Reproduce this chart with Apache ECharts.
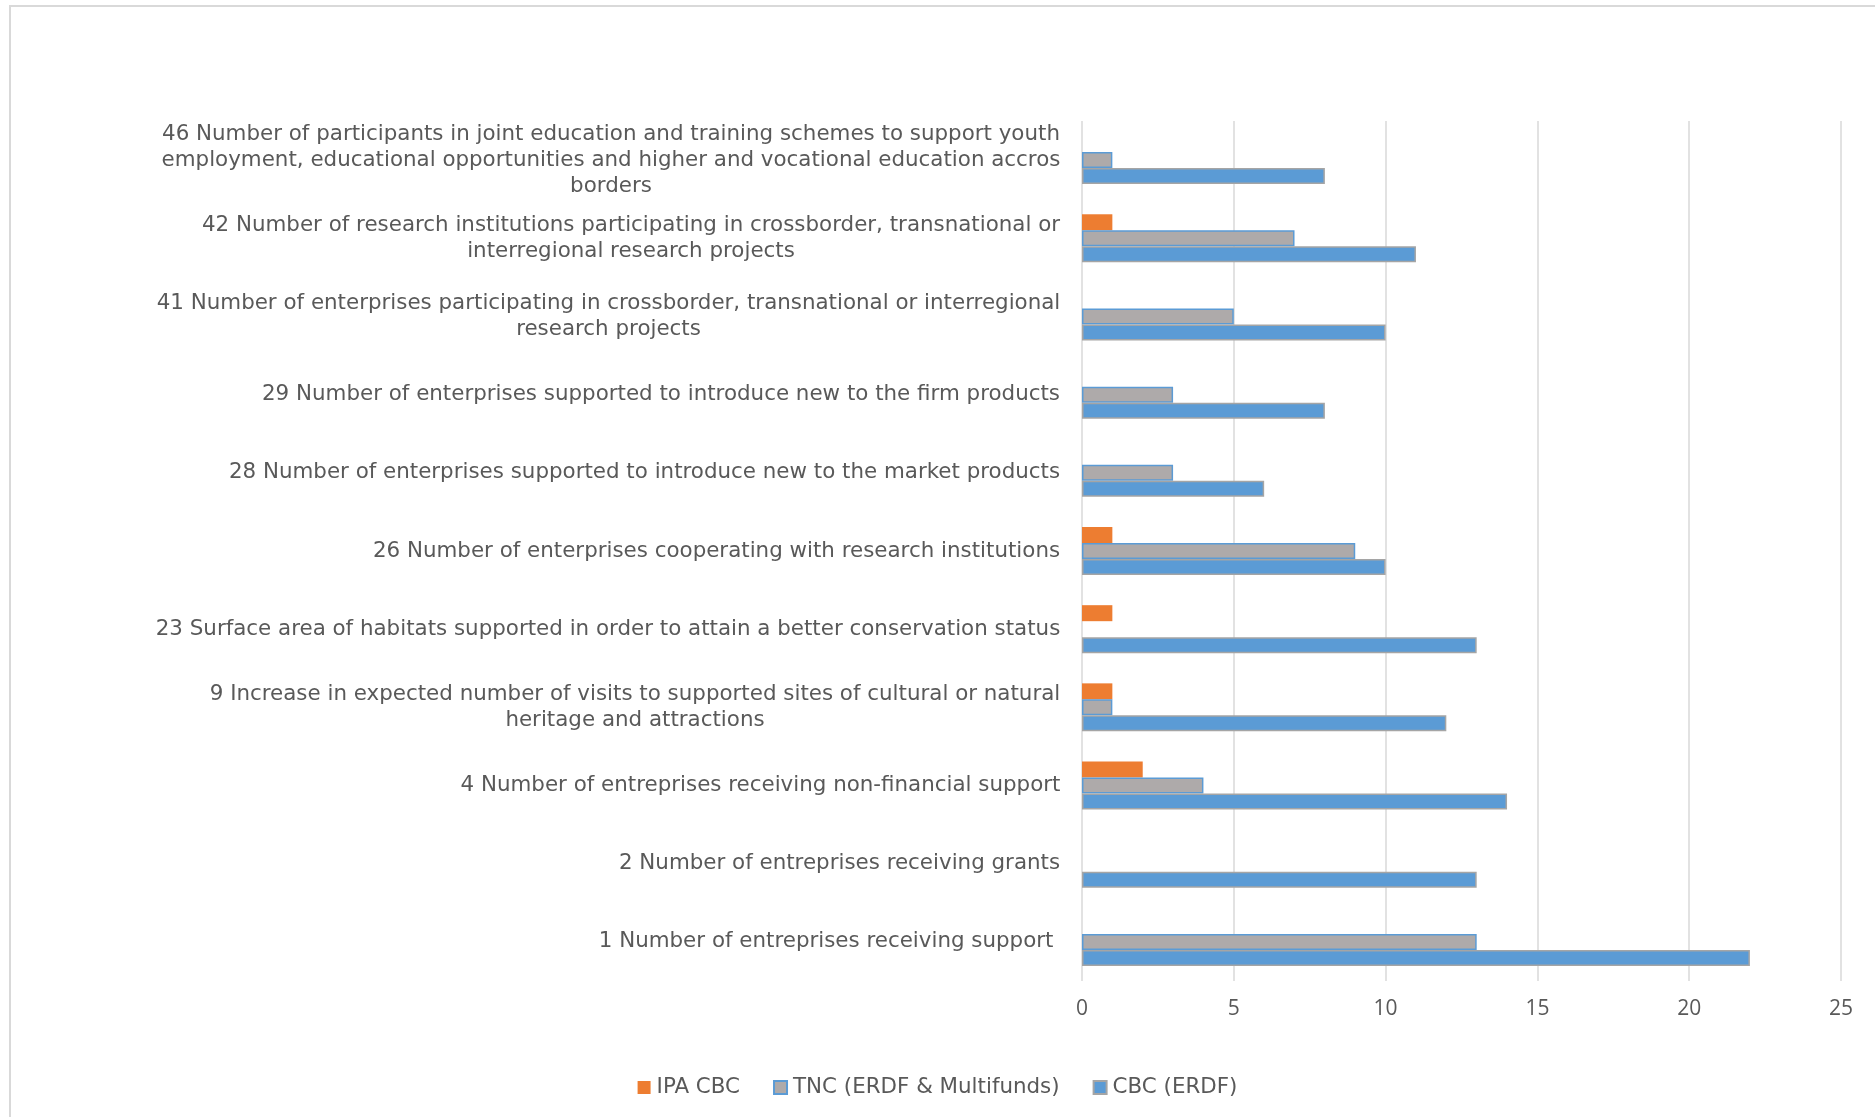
<!DOCTYPE html>
<html>
<head>
<meta charset="utf-8">
<script src="https://cdn.jsdelivr.net/npm/echarts@6/dist/echarts.min.js"></script>
<style>
  html, body { margin: 0; padding: 0; background: #fff; }
  #chart { width: 1875px; height: 1117px; }
</style>
</head>
<body>
<div id="chart"></div>
<script>
// categories, bottom to top (as the y axis draws them)
const categories = [
  '1 Number of entreprises receiving support ',
  '2 Number of entreprises receiving grants',
  '4 Number of entreprises receiving non-financial support',
  '9 Increase in expected number of visits to supported sites of cultural or natural\nheritage and attractions',
  '23 Surface area of habitats supported in order to attain a better conservation status',
  '26 Number of enterprises cooperating with research institutions',
  '28 Number of enterprises supported to introduce new to the market products',
  '29 Number of enterprises supported to introduce new to the firm products',
  '41 Number of enterprises participating in crossborder, transnational or interregional\nresearch projects',
  '42 Number of research institutions participating in crossborder, transnational or\ninterregional research projects',
  '46 Number of participants in joint education and training schemes to support youth\nemployment, educational opportunities and higher and vocational education accros\nborders'
];
const ipaCbc = [0, 0, 2, 1, 1, 1, 0, 0, 0, 1, 0];
const tnc    = [13, 0, 4, 1, 0, 9, 3, 3, 5, 7, 1];
const cbc    = [22, 13, 14, 12, 13, 10, 6, 8, 10, 11, 8];
const xTicks = [0, 5, 10, 15, 20, 25];

const labelFont = '"DejaVu Sans", sans-serif';
const labelSize = 21.4;

// measure every label so multi-line ones can be centred inside their own box
const ctx = document.createElement('canvas').getContext('2d');
ctx.font = labelSize + 'px ' + labelFont;
const rich = {};
categories.forEach((c, i) => {
  const w = Math.max(...c.split('\n').map(l => ctx.measureText(l).width));
  rich['c' + i] = {
    width: Math.ceil(w) + 1,
    align: 'center',
    fontFamily: labelFont,
    fontSize: labelSize,
    lineHeight: 26,
    color: '#595959'
  };
});

// zero bars should not leave a border sliver
const noZeroBorder = arr => arr.map(v => v === 0 ? { value: 0, itemStyle: { borderWidth: 0 } } : v);

let myChart = echarts.init(document.getElementById('chart'));

let option = {
  animation: false,
  backgroundColor: '#fff',
  graphic: [{
    type: 'rect',
    shape: { x: 10, y: 6, width: 1900, height: 1200 },
    style: { fill: 'none', stroke: '#d9d9d9', lineWidth: 2 },
    silent: true
  }],
  legend: {
    data: ['IPA CBC', 'TNC (ERDF & Multifunds)', 'CBC (ERDF)'],
    bottom: 14,
    left: 'center',
    icon: 'rect',
    itemWidth: 13,
    itemHeight: 13,
    itemGap: 33,
    textStyle: { fontFamily: labelFont, fontSize: labelSize, color: '#595959', padding: [0, 0, 0, 1] }
  },
  grid: {
    left: 1082,
    right: 34,
    top: 121,
    bottom: 136,
    outerBoundsMode: 'none'
  },
  xAxis: {
    type: 'value',
    min: xTicks[0],
    max: xTicks[xTicks.length - 1],
    interval: 5,
    axisLine: { show: false },
    axisTick: { show: false },
    axisLabel: {
      margin: 18,
      fontFamily: '"Open Sans", sans-serif',
      fontSize: 21,
      color: '#595959'
    },
    splitLine: { lineStyle: { color: '#d9d9d9', width: 1.5 } }
  },
  yAxis: {
    type: 'category',
    data: categories,
    axisLine: { show: false },
    axisTick: { show: false },
    axisLabel: {
      margin: 21,
      interval: 0,
      formatter: (value, idx) => value.split('\n').map(l => '{c' + idx + '|' + l + '}').join('\n'),
      rich: rich
    }
  },
  series: [
    {
      name: 'IPA CBC',
      type: 'bar',
      data: ipaCbc,
      barWidth: 16,
      barGap: '0%',
      itemStyle: { color: '#ed7d31' }
    },
    {
      name: 'TNC (ERDF & Multifunds)',
      type: 'bar',
      data: noZeroBorder(tnc),
      barWidth: 16,
      barGap: '0%',
      itemStyle: { color: '#aeaaaa', borderColor: '#5b9bd5', borderWidth: 1.5 }
    },
    {
      name: 'CBC (ERDF)',
      type: 'bar',
      data: noZeroBorder(cbc),
      barWidth: 16,
      barGap: '0%',
      itemStyle: { color: '#5b9bd5', borderColor: '#a5a5a5', borderWidth: 1.5 }
    }
  ]
};

myChart.setOption(option);
</script>
</body>
</html>
